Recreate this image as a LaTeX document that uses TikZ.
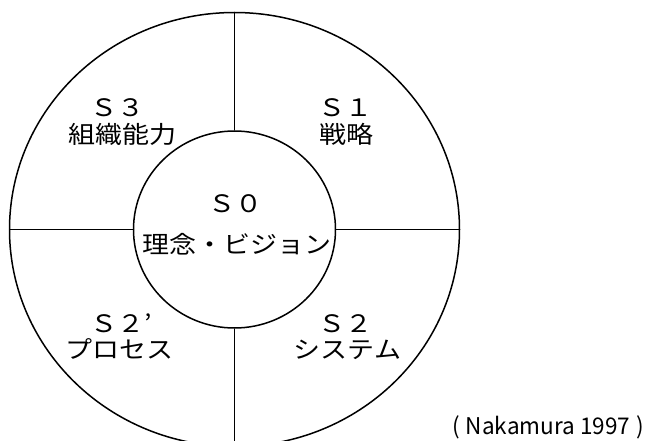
\documentclass[tikz,border=0pt]{standalone}
\usepackage{fontspec}
\usetikzlibrary{shapes.geometric}
\newfontfamily\jplabel[FakeStretch=1.125]{Noto Sans CJK JP}
\newfontfamily\jpcite[FakeStretch=0.98]{Noto Sans CJK JP}
\tikzset{
  ring/.style={draw, ellipse, line width=1.5pt, inner sep=0pt},
  divider/.style={line width=1.5pt},
  lbl/.style={anchor=base, inner sep=0pt, font=\jplabel\fontsize{24}{24}\selectfont},
  citestyle/.style={inner sep=0pt, font=\jpcite\fontsize{23}{23}\selectfont},
}
\begin{document}
\begin{tikzpicture}[x=1pt,y=-1pt]
\useasboundingbox (0,0) rectangle (648,441);
\clip (0,0) rectangle (648,441);
\node[ring, minimum width=450pt, minimum height=434pt] (outer) at (234.5,229.5) {};
\node[ring, minimum width=202pt, minimum height=197pt] (inner) at (234.5,229.5) {};
\draw[divider] (outer.north) -- (inner.north);
\draw[divider] (inner.south) -- (outer.south);
\draw[divider] (outer.west) -- (inner.west);
\draw[divider] (inner.east) -- (outer.east);
\node[lbl] (s3) at (117.5,117) {Ｓ３};
\node[lbl] (s3t) at (122.5,143) {組織能力};
\node[lbl] (s1) at (345,117) {Ｓ１};
\node[lbl] (s1t) at (346,143) {戦略};
\node[lbl] (s0) at (235,212) {Ｓ０};
\node[lbl] (s0t) at (236.5,253) {理念・ビジョン};
\node[lbl] (s2p) at (117,332) {Ｓ２\rlap{’}};
\node[lbl] (s2pt) at (119,358) {プロセス};
\node[lbl] (s2) at (345.5,332) {Ｓ２};
\node[lbl] (s2t) at (347.5,358) {システム};
\node[citestyle, anchor=base east] (cite) at (644,434) {(\kern6pt Nakamura 1997\kern6pt)};
\end{tikzpicture}
\end{document}
